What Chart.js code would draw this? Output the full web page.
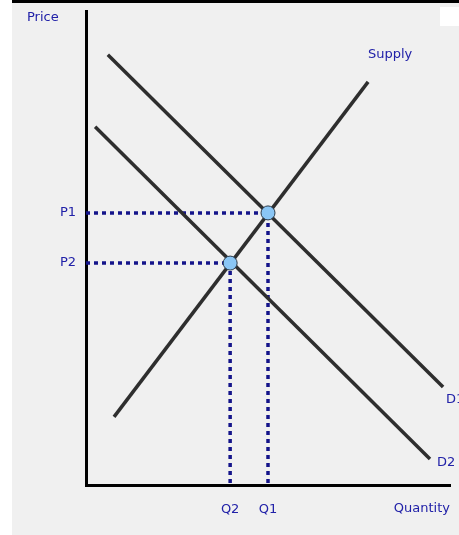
<!DOCTYPE html>
<html>
<head>
<meta charset="utf-8">
<script src="https://cdn.jsdelivr.net/npm/chart.js@4/dist/chart.umd.min.js"></script>
<style>
  body { margin: 0; background: #fff; width: 459px; height: 535px; overflow: hidden; position: relative; }
  #topbar { position: absolute; left: 12px; top: 0; width: 447px; height: 3px; background: #000; }
  #panel { position: absolute; left: 12px; top: 3px; width: 447px; height: 532px; background: #f0f0f0; }
  #corner { position: absolute; left: 428px; top: 4px; width: 19px; height: 19px; background: #fff; }
  canvas { position: absolute; left: 0; top: -9px; }
</style>
</head>
<body>
<div id="topbar"></div>
<div id="panel">
  <div id="corner"></div>
  <canvas id="chart" width="447" height="541"></canvas>
</div>
<script>
// curves (quantity, price) in chart units 0..10
const demand1Q = [0.6, 9.81];
const demand1P = [9.09, 2.07];
const demand2Q = [0.25, 9.45];
const demand2P = [7.57, 0.55];
const supplyQ = [0.77, 7.75];
const supplyP = [1.44, 8.52];

// equilibria
const eqQ = [5.0, 3.96];
const eqP = [5.75, 4.69];
const qLabels = ["Q1", "Q2"];
const pLabels = ["P1", "P2"];
const curveNames = ["D1", "D2", "Supply"];

const blue = "#2121a8";
const navy = "#14148a";
const font = { family: "DejaVu Sans", size: 13 };

const toPoints = (qs, ps) => qs.map((q, i) => ({ x: q, y: ps[i] }));

// text next to the curve ends
const curveText = {
  id: "curveText",
  afterDatasetsDraw(chart) {
    const { ctx, scales: { x, y } } = chart;
    ctx.save();
    ctx.font = `${font.size}px ${font.family}`;
    ctx.fillStyle = blue;
    ctx.textBaseline = "middle";
    ctx.textAlign = "left";
    ctx.fillText(curveNames[0], x.getPixelForValue(demand1Q[1]) + 3, y.getPixelForValue(demand1P[1]) + 13);
    ctx.fillText(curveNames[1], x.getPixelForValue(demand2Q[1]) + 7, y.getPixelForValue(demand2P[1]) + 4);
    ctx.textAlign = "center";
    ctx.fillText(curveNames[2], x.getPixelForValue(supplyQ[1]) + 22, y.getPixelForValue(supplyP[1]) - 27);
    // axis names
    ctx.textAlign = "left";
    ctx.fillText("Price", 15, 24);
    ctx.textAlign = "right";
    ctx.fillText("Quantity", x.right, x.top + 24);
    ctx.restore();
  }
};

const dotted = (i) => ({
  type: "line",
  data: [{ x: 0, y: eqP[i] }, { x: eqQ[i], y: eqP[i] }, { x: eqQ[i], y: 0 }],
  borderColor: navy,
  borderWidth: 3.5,
  borderDash: [4, 4],
  pointRadius: 0,
  order: 3
});

const curve = (qs, ps) => ({
  type: "line",
  data: toPoints(qs, ps),
  borderColor: "#2e2e2e",
  borderWidth: 3.5,
  pointRadius: 0,
  order: 2
});

new Chart(document.getElementById("chart"), {
  type: "scatter",
  data: {
    datasets: [
      {
        data: toPoints(eqQ, eqP),
        pointRadius: 7,
        pointBackgroundColor: "#8ac6f5",
        pointBorderColor: "#2a3a4a",
        pointBorderWidth: 1,
        order: 1
      },
      curve(demand1Q, demand1P),
      curve(demand2Q, demand2P),
      curve(supplyQ, supplyP),
      dotted(0),
      dotted(1)
    ]
  },
  options: {
    responsive: false,
    animation: false,
    layout: { padding: { top: 0, right: 9 } },
    plugins: { legend: { display: false }, tooltip: { enabled: false } },
    scales: {
      x: {
        type: "linear",
        min: 0,
        max: 10,
        grid: { display: false, drawTicks: false },
        border: { display: true, color: "#000", width: 3 },
        afterBuildTicks: (s) => { s.ticks = eqQ.map((v) => ({ value: v })); },
        afterFit: (s) => { s.height = 50; },
        ticks: {
          padding: 17,
          color: blue,
          font,
          maxRotation: 0,
          autoSkip: false,
          callback: (v) => qLabels[eqQ.indexOf(v)]
        }
      },
      y: {
        type: "linear",
        min: 0,
        max: 10,
        grid: { display: false, drawTicks: false },
        border: { display: true, color: "#000", width: 3 },
        afterBuildTicks: (s) => { s.ticks = eqP.map((v) => ({ value: v })); },
        afterFit: (s) => { s.width = 74; },
        ticks: {
          padding: 10,
          color: blue,
          font,
          autoSkip: false,
          callback: (v) => pLabels[eqP.indexOf(v)]
        }
      }
    }
  },
  plugins: [curveText]
});
</script>
</body>
</html>
